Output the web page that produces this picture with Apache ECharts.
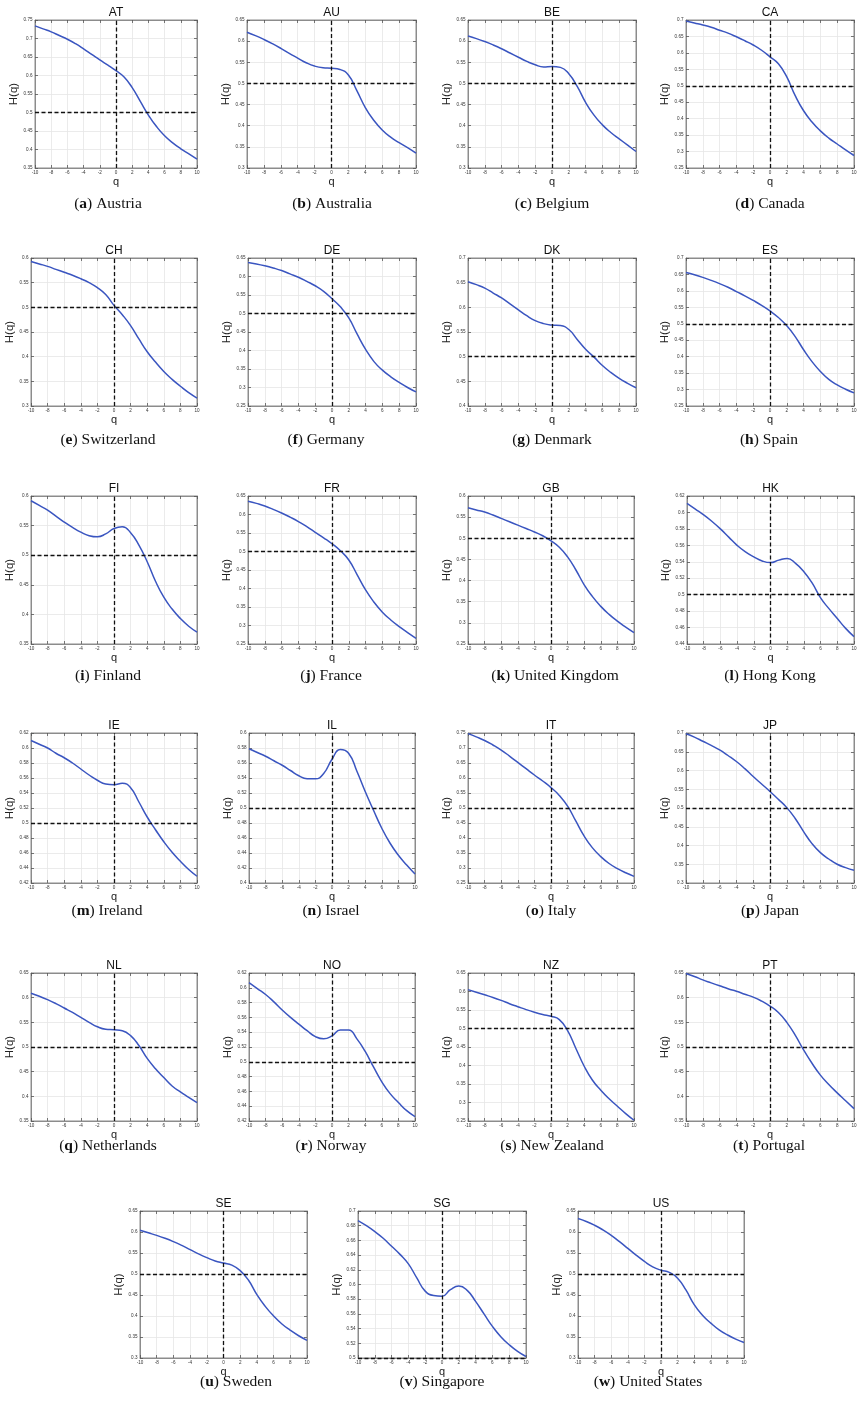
<!DOCTYPE html>
<html>
<head>
<meta charset="utf-8">
<script src="https://cdn.jsdelivr.net/npm/echarts@6/dist/echarts.min.js"></script>
<style>
html,body{margin:0;padding:0;background:#fff}
#chart{width:867px;height:1412px}
</style>
</head>
<body>
<div id="chart"></div>
<script>
// Generalized Hurst exponent H(q) for q = -10 ... 10, one curve per market
const qValues = [-10,-9,-8,-7,-6,-5,-4,-3,-2,-1,0,1,2,3,4,5,6,7,8,9,10];

const hAT = [0.734,0.726,0.718,0.708,0.698,0.686,0.672,0.657,0.642,0.628,0.613,0.596,0.567,0.530,0.493,0.462,0.437,0.418,0.402,0.388,0.374];
const hAU = [0.621,0.613,0.604,0.594,0.583,0.571,0.560,0.549,0.541,0.537,0.536,0.533,0.520,0.483,0.443,0.413,0.390,0.373,0.360,0.348,0.335];
const hBE = [0.612,0.606,0.599,0.591,0.582,0.572,0.562,0.552,0.544,0.539,0.540,0.538,0.523,0.493,0.455,0.425,0.402,0.384,0.369,0.354,0.339];
const hCA = [0.697,0.691,0.685,0.678,0.669,0.660,0.649,0.637,0.624,0.608,0.588,0.567,0.527,0.470,0.424,0.390,0.363,0.341,0.323,0.305,0.288];
const hCH = [0.593,0.588,0.583,0.577,0.571,0.565,0.558,0.550,0.540,0.526,0.504,0.485,0.463,0.436,0.410,0.389,0.370,0.354,0.340,0.327,0.316];
const hDE = [0.638,0.634,0.629,0.623,0.616,0.607,0.598,0.587,0.575,0.560,0.540,0.518,0.488,0.444,0.403,0.370,0.347,0.329,0.314,0.300,0.288];
const hDK = [0.652,0.646,0.639,0.629,0.619,0.607,0.595,0.583,0.573,0.567,0.564,0.563,0.555,0.535,0.515,0.499,0.482,0.468,0.456,0.446,0.437];
const hES = [0.656,0.649,0.641,0.632,0.622,0.611,0.598,0.585,0.571,0.556,0.539,0.519,0.494,0.461,0.421,0.385,0.355,0.331,0.314,0.301,0.290];
const hFI = [0.592,0.584,0.576,0.566,0.556,0.547,0.539,0.533,0.531,0.536,0.545,0.548,0.538,0.517,0.489,0.456,0.429,0.409,0.393,0.380,0.370];
const hFR = [0.636,0.630,0.623,0.614,0.604,0.593,0.581,0.567,0.552,0.537,0.521,0.502,0.477,0.437,0.396,0.363,0.336,0.315,0.297,0.281,0.265];
const hGB = [0.572,0.567,0.562,0.555,0.547,0.539,0.531,0.523,0.515,0.506,0.494,0.479,0.456,0.425,0.390,0.362,0.339,0.320,0.304,0.290,0.277];
const hHK = [0.611,0.604,0.597,0.589,0.580,0.570,0.560,0.552,0.546,0.541,0.539,0.542,0.544,0.538,0.528,0.514,0.496,0.483,0.471,0.459,0.449];
const hIE = [0.610,0.605,0.600,0.593,0.587,0.580,0.572,0.564,0.557,0.552,0.551,0.553,0.547,0.528,0.508,0.491,0.475,0.461,0.449,0.438,0.429];
const hIL = [0.579,0.574,0.569,0.563,0.557,0.550,0.543,0.539,0.539,0.546,0.565,0.578,0.573,0.549,0.522,0.497,0.473,0.453,0.437,0.424,0.412];
const hIT = [0.748,0.737,0.725,0.710,0.693,0.673,0.652,0.631,0.610,0.590,0.568,0.542,0.506,0.456,0.406,0.367,0.338,0.315,0.298,0.284,0.272];
const hJP = [0.698,0.689,0.678,0.667,0.655,0.640,0.624,0.605,0.584,0.564,0.544,0.523,0.501,0.472,0.437,0.405,0.381,0.364,0.350,0.341,0.334];
const hNL = [0.609,0.603,0.596,0.588,0.579,0.570,0.560,0.550,0.541,0.536,0.535,0.533,0.523,0.503,0.477,0.456,0.438,0.421,0.409,0.398,0.387];
const hNO = [0.607,0.599,0.591,0.581,0.570,0.560,0.551,0.542,0.534,0.531,0.535,0.543,0.543,0.531,0.514,0.493,0.473,0.457,0.445,0.434,0.426];
const hNZ = [0.605,0.598,0.591,0.584,0.576,0.567,0.559,0.551,0.544,0.538,0.533,0.524,0.494,0.446,0.398,0.360,0.333,0.310,0.290,0.270,0.252];
const hPT = [0.649,0.643,0.636,0.630,0.624,0.618,0.613,0.607,0.601,0.593,0.583,0.570,0.550,0.524,0.494,0.467,0.443,0.424,0.407,0.391,0.375];
const hSE = [0.604,0.598,0.592,0.585,0.577,0.568,0.558,0.548,0.539,0.531,0.526,0.521,0.508,0.485,0.451,0.423,0.400,0.381,0.366,0.353,0.342];
const hSG = [0.687,0.680,0.672,0.663,0.652,0.641,0.628,0.609,0.591,0.585,0.584,0.593,0.598,0.592,0.577,0.560,0.543,0.529,0.518,0.509,0.502];
const hUS = [0.632,0.625,0.616,0.605,0.592,0.577,0.561,0.545,0.530,0.517,0.509,0.504,0.490,0.462,0.427,0.402,0.383,0.367,0.355,0.345,0.337];

const codes   = ['AT','AU','BE','CA','CH','DE','DK','ES','FI','FR','GB','HK','IE','IL','IT','JP','NL','NO','NZ','PT','SE','SG','US'];
const letters = ['a','b','c','d','e','f','g','h','i','j','k','l','m','n','o','p','q','r','s','t','u','v','w'];
const names   = ['Austria','Australia','Belgium','Canada','Switzerland','Germany','Denmark','Spain','Finland','France',
                 'United Kingdom','Hong Kong','Ireland','Israel','Italy','Japan','Netherlands','Norway','New Zealand',
                 'Portugal','Sweden','Singapore','United States'];
const curves  = [hAT,hAU,hBE,hCA,hCH,hDE,hDK,hES,hFI,hFR,hGB,hHK,hIE,hIL,hIT,hJP,hNL,hNO,hNZ,hPT,hSE,hSG,hUS];

// y-axis range and tick step of each panel
const yMin  = [0.35,0.30,0.30,0.25,0.30,0.25,0.40,0.25,0.35,0.25,0.25,0.44,0.42,0.40,0.25,0.30,0.35,0.42,0.25,0.35,0.30,0.50,0.30];
const yMax  = [0.75,0.65,0.65,0.70,0.60,0.65,0.70,0.70,0.60,0.65,0.60,0.62,0.62,0.60,0.75,0.70,0.65,0.62,0.65,0.65,0.65,0.70,0.65];
const yStep = [0.05,0.05,0.05,0.05,0.05,0.05,0.05,0.05,0.05,0.05,0.05,0.02,0.02,0.02,0.05,0.05,0.05,0.02,0.05,0.05,0.05,0.02,0.05];
const qTicks = {min: -10, max: 10, step: 2};

// plot-area boxes: [left, top, width, height]
const boxes = [
  [35,20,162,148],[247,20,169,148],[468,20,168,148],[686,20,168,148],
  [31,258,166,148],[248,258,168,148],[468,258,168,148],[686,258,168,148],
  [31,496,166,148],[248,496,168,148],[468,496,166,148],[687,496,167,148],
  [31,733,166,150],[249,733,166,150],[468,733,166,150],[686,733,168,150],
  [31,973,166,148],[249,973,166,148],[468,973,166,148],[686,973,168,148],
  [140,1211,167,147],[358,1211,168,147],[578,1211,166,147]
];
const captionCenters = [
  [108,204],[332,204],[552,204],[770,204],
  [108,440],[326,440],[552,440],[769,440],
  [108,676],[331,676],[555,676],[770,676],
  [107,911],[331,911],[551,911],[770,911],
  [108,1146],[331,1146],[552,1146],[769,1146],
  [236,1382],[442,1382],[648,1382]
];

const SANS = 'Liberation Sans, Arial, Helvetica, sans-serif';
const SERIF = 'Liberation Serif, DejaVu Serif, serif';
const frameColor = '#8c8c8c';
const gridColor = '#e6e6e6';

const grid = [], xAxis = [], yAxis = [], series = [], graphic = [];

codes.forEach((code, i) => {
  const [l, t, w, h] = boxes[i];
  grid.push({left: l, top: t, width: w, height: h, containLabel: false,
             show: true, borderColor: frameColor, borderWidth: 1, backgroundColor: '#fff'});

  const xBase = {
    gridIndex: i, type: 'value', min: qTicks.min, max: qTicks.max, interval: qTicks.step,
    axisLine: {show: true, onZero: false, lineStyle: {color: frameColor, width: 1}},
    axisTick: {show: true, inside: true, length: 3, lineStyle: {color: '#555', width: 0.8}}
  };
  xAxis.push(Object.assign({}, xBase, {
    position: 'bottom',
    name: 'q', nameLocation: 'middle', nameGap: 7,
    nameTextStyle: {fontSize: 11, color: '#222', fontFamily: SANS},
    axisLabel: {show: true, fontSize: 4.6, color: '#333', margin: 2.5, fontFamily: SANS},
    splitLine: {show: true, lineStyle: {color: gridColor, width: 0.8}}
  }));
  xAxis.push(Object.assign({}, xBase, {
    position: 'top', axisLabel: {show: false}, splitLine: {show: false}
  }));

  const yBase = {
    gridIndex: i, type: 'value', min: yMin[i], max: yMax[i], interval: yStep[i],
    axisLine: {show: true, onZero: false, lineStyle: {color: frameColor, width: 1}},
    axisTick: {show: true, inside: true, length: 3, lineStyle: {color: '#555', width: 0.8}}
  };
  yAxis.push(Object.assign({}, yBase, {
    position: 'left',
    name: 'H(q)', nameLocation: 'middle', nameGap: 8, nameRotate: 90,
    nameTextStyle: {fontSize: 11.5, color: '#222', fontFamily: SANS},
    axisLabel: {show: true, fontSize: 4.6, color: '#333', margin: 2.5, fontFamily: SANS,
                formatter: v => String(+v.toFixed(3))},
    splitLine: {show: true, lineStyle: {color: gridColor, width: 0.8}}
  }));
  yAxis.push(Object.assign({}, yBase, {
    position: 'right', axisLabel: {show: false}, splitLine: {show: false}
  }));

  series.push({
    type: 'line', name: code,
    xAxisIndex: 2 * i, yAxisIndex: 2 * i,
    data: qValues.map((q, k) => [q, curves[i][k]]),
    showSymbol: false, smooth: 0.5,
    lineStyle: {color: '#3a55c0', width: 1.5},
    itemStyle: {color: '#3a55c0'},
    z: 3,
    markLine: {
      silent: true, symbol: 'none', animation: false,
      label: {show: false},
      lineStyle: {color: '#111', type: [4, 2.5], width: 1.3},
      data: [{yAxis: 0.5}, {xAxis: 0}]
    }
  });

  // panel title
  graphic.push({
    type: 'text', x: l + w / 2, y: t - 7, silent: true,
    style: {text: code, fontSize: 12, fontFamily: SANS, fill: '#111',
            align: 'center', verticalAlign: 'middle', textAlign: 'center', textVerticalAlign: 'middle'}
  });

  // caption under the panel
  const [cx, cy] = captionCenters[i];
  graphic.push({
    type: 'text', x: cx, y: cy, silent: true,
    style: {
      text: '{p|(}{b|' + letters[i] + '}{p|) ' + names[i] + '}',
      align: 'center', verticalAlign: 'middle', textAlign: 'center', textVerticalAlign: 'middle',
      fontSize: 15.5, fontFamily: SERIF, fill: '#111',
      rich: {
        p: {fontSize: 15.5, fontFamily: SERIF, fill: '#111', color: '#111'},
        b: {fontSize: 15.5, fontFamily: SERIF, fontWeight: 'bold', fill: '#111', color: '#111'}
      }
    }
  });
});

const chart = echarts.init(document.getElementById('chart'), null, {renderer: 'canvas'});
chart.setOption({
  backgroundColor: '#fff',
  animation: false,
  grid, xAxis, yAxis, series, graphic
});
</script>
</body>
</html>
